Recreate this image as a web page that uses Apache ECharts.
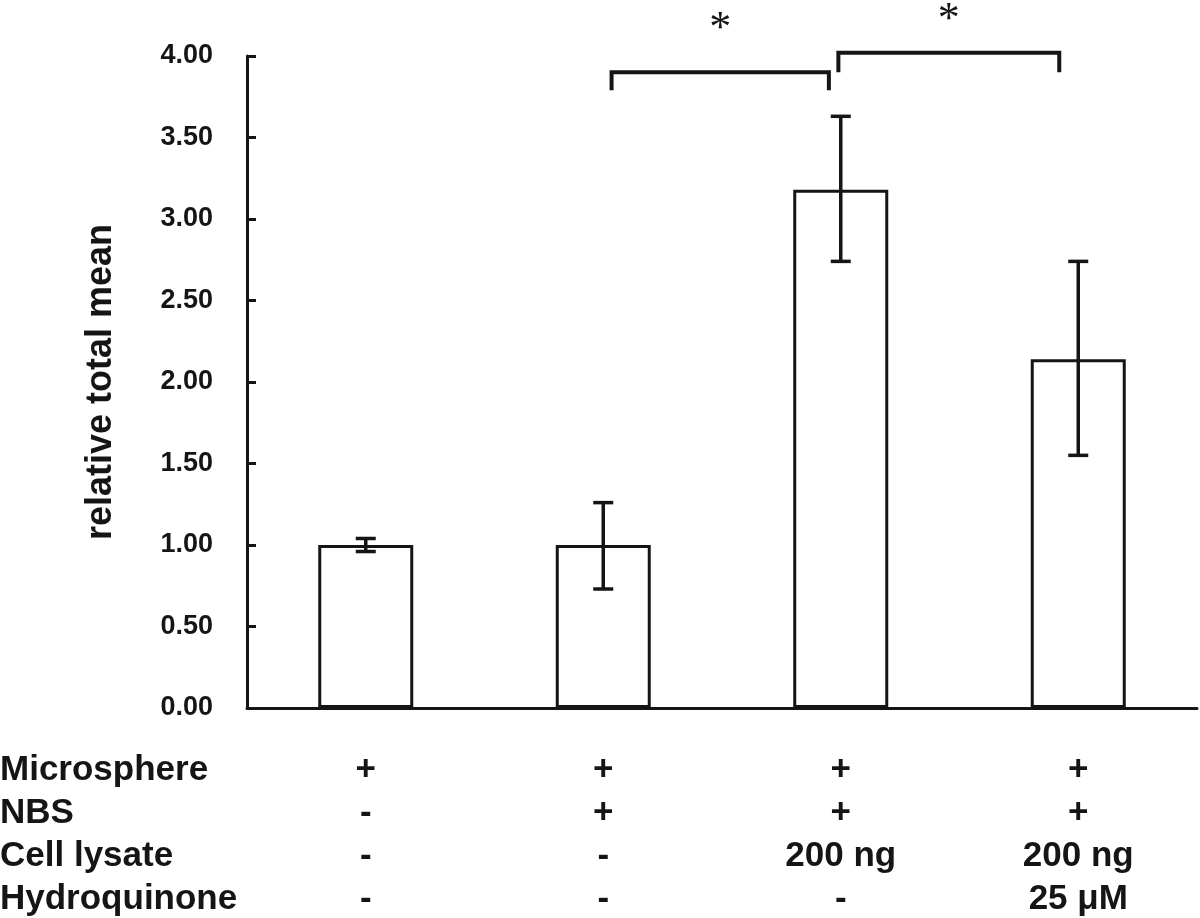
<!DOCTYPE html>
<html>
<head>
<meta charset="utf-8">
<script src="https://cdn.jsdelivr.net/npm/echarts@6/dist/echarts.min.js"></script>
<style>
  html, body { margin: 0; padding: 0; background: #fff; }
  #chart { width: 1200px; height: 918px; }
</style>
</head>
<body>
<div id="chart"></div>
<script>
// condition table under the bars
const rowNames = ['Microsphere', 'NBS', 'Cell lysate', 'Hydroquinone'];
const microsphere = ['+', '+', '+', '+'];
const nbs = ['-', '+', '+', '+'];
const cellLysate = ['-', '-', '200 ng', '200 ng'];
const hydroquinone = ['-', '-', '-', '25 μM'];
const rows = [microsphere, nbs, cellLysate, hydroquinone];

// bar values and error bars
const means = [1.00, 1.00, 3.18, 2.14];
const errLow = [0.96, 0.73, 2.74, 1.55];
const errHigh = [1.04, 1.26, 3.63, 2.74];

// significance brackets: start / end in category units, top and leg ends in y units
const bracketStart = [1.035, 1.99];
const bracketEnd = [1.95, 2.92];
const bracketTop = [3.90, 4.02];
const bracketLeg = [3.79, 3.90];
const starY = [4.16, 4.22];
const starText = ['*', '*'];

const categories = means.map((_, i) => rows.map(r => r[i]).join('\n'));

const INK = '#151515';
const FONT = '"Liberation Sans", Arial, sans-serif';

const chart = echarts.init(document.getElementById('chart'));

chart.setOption({
    animation: false,
    backgroundColor: '#fff',
    grid: { left: 247, right: 3, top: 56, bottom: 210, containLabel: false, outerBoundsMode: 'none' },
    xAxis: {
        type: 'category',
        data: categories,
        boundaryGap: true,
        axisLine: { lineStyle: { color: INK, width: 3 } },
        axisTick: { inside: true, length: 10, lineStyle: { color: INK, width: 3 } },
        axisLabel: {
            color: INK, fontFamily: FONT, fontWeight: 'bold', fontSize: 35,
            lineHeight: 43, margin: 41, interval: 0
        }
    },
    yAxis: {
        type: 'value',
        min: 0, max: 4, interval: 0.5,
        name: 'relative total mean',
        nameLocation: 'middle',
        nameRotate: 90,
        nameGap: 128,
        nameTextStyle: { color: INK, fontFamily: FONT, fontWeight: 'bold', fontSize: 36 },
        splitLine: { show: false },
        axisLine: { show: true, lineStyle: { color: INK, width: 3 } },
        axisTick: { show: true, inside: true, length: 9, lineStyle: { color: INK, width: 3 } },
        axisLabel: {
            color: INK, fontFamily: FONT, fontWeight: 'bold', fontSize: 27, margin: 34,
            formatter: v => v.toFixed(2)
        }
    },
    graphic: rowNames.map((name, i) => ({
        type: 'text',
        left: 0,
        top: 753 + i * 43,
        style: { text: name, fill: INK, font: 'bold 35px ' + FONT }
    })),
    series: [
        {
            type: 'bar',
            data: means,
            barWidth: '40%',
            itemStyle: { color: '#fff', borderColor: INK, borderWidth: 3 },
            z: 2
        },
        {
            type: 'custom',
            z: 3,
            data: means.map((_, i) => [i, errLow[i], errHigh[i]]),
            renderItem: (params, api) => {
                const lo = api.coord([api.value(0), api.value(1)]);
                const hi = api.coord([api.value(0), api.value(2)]);
                const cap = 10;
                const style = { stroke: INK, lineWidth: 3.5 };
                return {
                    type: 'group',
                    children: [
                        { type: 'line', shape: { x1: hi[0], y1: hi[1], x2: lo[0], y2: lo[1] }, style },
                        { type: 'line', shape: { x1: hi[0] - cap, y1: hi[1], x2: hi[0] + cap, y2: hi[1] }, style },
                        { type: 'line', shape: { x1: lo[0] - cap, y1: lo[1], x2: lo[0] + cap, y2: lo[1] }, style }
                    ]
                };
            }
        },
        {
            type: 'custom',
            z: 3,
            clip: false,
            data: bracketStart.map((s, i) => [s, bracketEnd[i], bracketTop[i], bracketLeg[i], starY[i]]),
            renderItem: (params, api) => {
                const band = api.size([1, 0])[0];
                const base = api.coord([0, 0])[0];
                const xs = base + api.value(0) * band;
                const xe = base + api.value(1) * band;
                const yt = api.coord([0, api.value(2)])[1];
                const yl = api.coord([0, api.value(3)])[1];
                const ys = api.coord([0, api.value(4)])[1];
                return {
                    type: 'group',
                    children: [
                        {
                            type: 'polyline',
                            shape: { points: [[xs, yl], [xs, yt], [xe, yt], [xe, yl]] },
                            style: { stroke: INK, lineWidth: 4, fill: null }
                        },
                        {
                            type: 'text',
                            style: {
                                text: starText[params.dataIndex],
                                x: (xs + xe) / 2, y: ys,
                                align: 'center', verticalAlign: 'middle',
                                fill: INK, font: '44px "Liberation Serif", "Times New Roman", serif'
                            }
                        }
                    ]
                };
            }
        }
    ]
});
</script>
</body>
</html>
